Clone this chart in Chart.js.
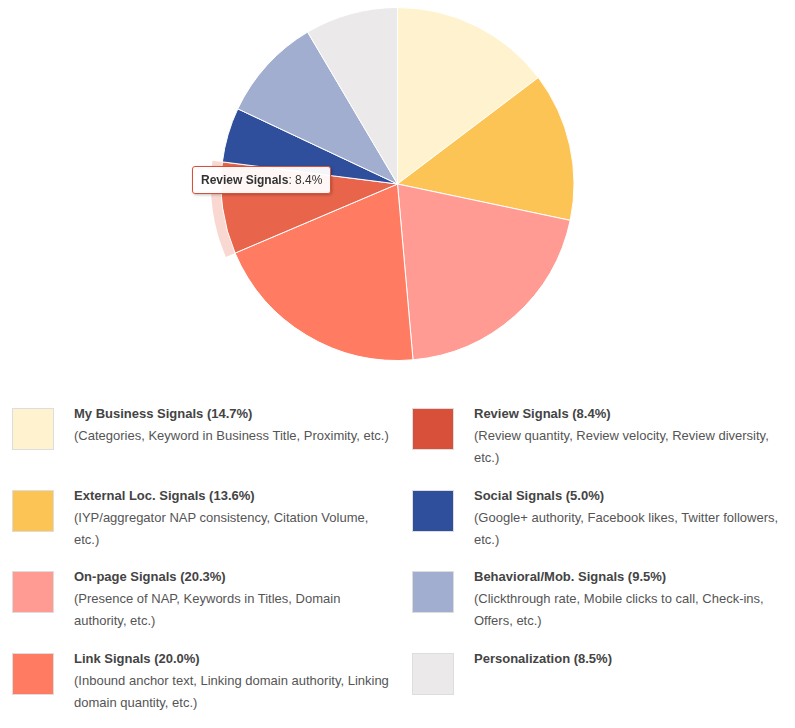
<!DOCTYPE html>
<html>
<head>
<meta charset="utf-8">
<script src="https://cdn.jsdelivr.net/npm/chart.js@4"></script>
<style>
  body { margin: 0; background: #fff; font-family: "Liberation Sans", Arial, sans-serif; }
  #wrap { position: relative; width: 795px; height: 368px; }
  #tip { position: absolute; left: 192px; top: 166px; padding: 6px 8px; background: rgba(255,255,255,0.95);
         border: 1px solid #d9503a; border-radius: 3px; font-size: 12px; color: #333;
         box-shadow: 1px 1px 3px rgba(0,0,0,0.25); white-space: nowrap; }
  #legend { position: relative; height: 360px; }
  .item { position: absolute; width: 380px; font-size: 13px; line-height: 22px; color: #555; }
  .sw { position: absolute; left: 0; top: 0; width: 40px; height: 40px; border: 1px solid #ddd; }
  .txt { position: absolute; left: 62px; top: -5px; right: 0; }
  .txt b { color: #444; }
</style>
</head>
<body>
<div id="wrap"><canvas id="pie"></canvas><div id="tip"><b>Review Signals</b>: 8.4%</div></div>
<div id="legend"></div>
<script>
// Chart data
const labels = ['My Business Signals', 'External Loc. Signals', 'On-page Signals', 'Link Signals',
                'Review Signals', 'Social Signals', 'Behavioral/Mob. Signals', 'Personalization'];
const values = [14.7, 13.6, 20.3, 20.0, 8.4, 5.0, 9.5, 8.5];
const descriptions = [
    '(Categories, Keyword in Business Title, Proximity, etc.)',
    '(IYP/aggregator NAP consistency, Citation Volume, etc.)',
    '(Presence of NAP, Keywords in Titles, Domain authority, etc.)',
    '(Inbound anchor text, Linking domain authority, Linking domain quantity, etc.)',
    '(Review quantity, Review velocity, Review diversity, etc.)',
    '(Google+ authority, Facebook likes, Twitter followers, etc.)',
    '(Clickthrough rate, Mobile clicks to call, Check-ins, Offers, etc.)',
    ''
];
const colors = ['#fff3cf', '#fcc454', '#ff9b93', '#ff7b61', '#d9503a', '#2f4f9c', '#a2aecf', '#ebe9ea'];
const hoverIndex = 4;

// Pie colours, with the hovered slice a bit lighter
const sliceColors = colors.map((c, i) => i === hoverIndex ? '#e8654b' : c);

// Halo behind the hovered slice
const haloPlugin = {
    id: 'halo',
    beforeDatasetsDraw(chart) {
        const arc = chart.getDatasetMeta(0).data[hoverIndex];
        const ctx = chart.ctx;
        ctx.save();
        ctx.beginPath();
        ctx.arc(arc.x, arc.y, arc.outerRadius + 10, arc.startAngle, arc.endAngle);
        ctx.arc(arc.x, arc.y, arc.outerRadius, arc.endAngle, arc.startAngle, true);
        ctx.closePath();
        ctx.fillStyle = 'rgba(232,101,75,0.25)';
        ctx.fill();
        ctx.restore();
    }
};

new Chart(document.getElementById('pie'), {
    type: 'pie',
    data: {
        labels: labels,
        datasets: [{
            data: values,
            backgroundColor: sliceColors,
            borderColor: '#fff',
            borderWidth: 1,
            hoverOffset: 0
        }]
    },
    options: {
        responsive: true,
        maintainAspectRatio: false,
        animation: false,
        events: [],
        layout: { padding: 7 },
        plugins: { legend: { display: false }, tooltip: { enabled: false } }
    },
    plugins: [haloPlugin]
});

// Build the legend (two columns, four rows)
const legend = document.getElementById('legend');
labels.forEach((label, i) => {
    const col = i < 4 ? 0 : 1;
    const row = i % 4;
    const item = document.createElement('div');
    item.className = 'item';
    item.style.left = (12 + col * 400) + 'px';
    item.style.top = (40 + row * 81.5) + 'px';
    item.innerHTML = `
        <div class="sw" style="background:${colors[i]}"></div>
        <div class="txt"><b>${label} (${values[i].toFixed(1)}%)</b><br>${descriptions[i]}</div>
    `;
    legend.appendChild(item);
});
</script>
</body>
</html>
